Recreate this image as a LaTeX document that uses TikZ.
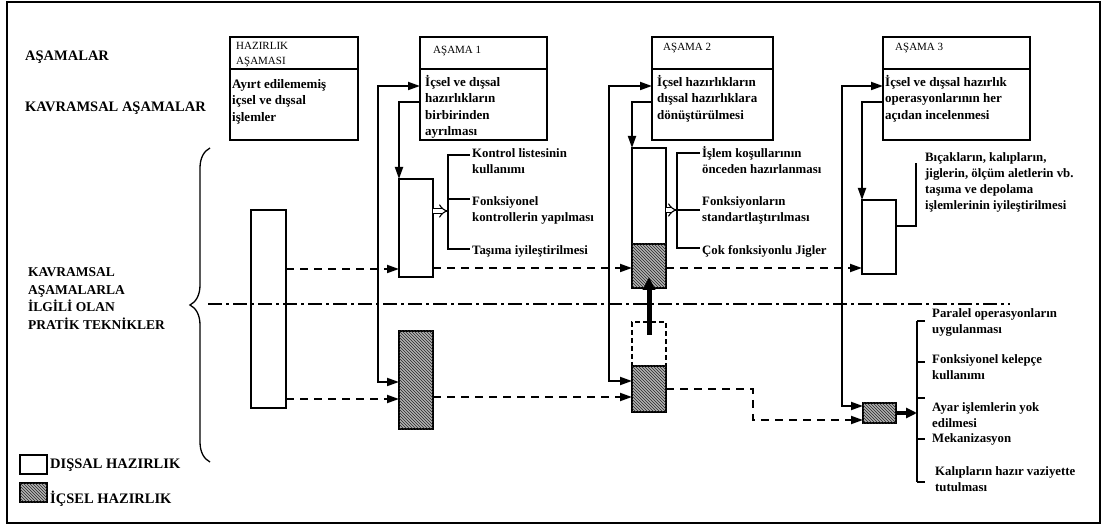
\documentclass[tikz,border=0pt]{standalone}
\usepackage{fontspec}
\setmainfont{Liberation Serif}
\usetikzlibrary{arrows.meta,patterns,decorations.pathreplacing,calc}

\newcommand\bodyfont{\fontsize{13}{16.5}\selectfont\bfseries}
\newcommand\notefont{\fontsize{12.8}{16}\selectfont\bfseries}
\newcommand\headfont{\fontsize{11}{15}\selectfont}
\newcommand\sidefont{\fontsize{14.5}{17.7}\selectfont\bfseries}

\begin{document}
\begin{tikzpicture}[x=1pt,y=-1pt,
  >={Triangle[length=12pt,width=8pt]},
  box/.style={draw, line width=1.6pt, rectangle, inner sep=0pt, outer sep=0pt, anchor=north west},
  hatch/.style={fill=gray!60, postaction={pattern=north west lines, pattern color=black!85}},
  dashbox/.style={draw, line width=1.6pt, dash pattern=on 5pt off 3pt, rectangle, inner sep=0pt, outer sep=0pt, anchor=north west},
  conn/.style={line width=1.8pt},
  dconn/.style={line width=1.8pt, dash pattern=on 8pt off 6pt},
  hollow/.style={line width=1.1pt, double distance=3.5pt, -{Implies[length=5pt]}},
  txt/.style={anchor=north west, inner sep=0pt, align=left, font=\notefont},
  bodytxt/.style={anchor=north west, inner sep=0pt, align=left, font=\bodyfont},
  headtxt/.style={anchor=west, inner sep=0pt, align=left, font=\headfont},
  side/.style={anchor=west, inner sep=0pt, align=left, font=\sidefont},
  brk/.style={line width=1.6pt}]
\useasboundingbox (0,0) rectangle (1103,526);
\fill[white] (0,0) rectangle (1103,526);
\draw[line width=2pt] (7,2) rectangle (1100,523);

% row titles
\node[side] (lblA) at (25,57) {AŞAMALAR};
\node[side] (lblK) at (25,108) {KAVRAMSAL AŞAMALAR};
\node[side, font=\fontsize{13.5}{17.7}\selectfont\bfseries] (lblP) at (28,298.5)
  {KAVRAMSAL\\AŞAMALARLA\\İLGİLİ OLAN\\PRATİK TEKNİKLER};
\draw[line width=1.3pt, decorate, decoration={brace, amplitude=20pt, aspect=0.5}] (210,462) -- (210,148);

% legend
\node[box, minimum width=27pt, minimum height=19pt] (legW) at (20,455) {};
\node[box, hatch, minimum width=27pt, minimum height=19pt] (legH) at (20,483) {};
\node[side, font=\fontsize{14.5}{17}\selectfont\bfseries] (legWt) at (50,465) {DIŞSAL HAZIRLIK};
\node[side, font=\fontsize{14.5}{17}\selectfont\bfseries] (legHt) at (50,499) {İÇSEL HAZIRLIK};

% stage boxes: header + body
\node[box, minimum width=128pt, minimum height=32pt] (hdr0) at (230,37) {};
\node[box, minimum width=128pt, minimum height=71pt] (body0) at (230,69) {};
\node[box, minimum width=127pt, minimum height=32pt] (hdr1) at (420,37) {};
\node[box, minimum width=127pt, minimum height=71pt] (body1) at (420,69) {};
\node[box, minimum width=121pt, minimum height=32pt] (hdr2) at (652,37) {};
\node[box, minimum width=121pt, minimum height=71pt] (body2) at (652,69) {};
\node[box, minimum width=147pt, minimum height=32pt] (hdr3) at (883,37) {};
\node[box, minimum width=147pt, minimum height=71pt] (body3) at (883,69) {};

\node[headtxt] (h0t) at (236,54.5) {HAZIRLIK\\AŞAMASI};
\node[headtxt] (h1t) at (433,51) {AŞAMA 1};
\node[headtxt] (h2t) at (663,48) {AŞAMA 2};
\node[headtxt] (h3t) at (895,48) {AŞAMA 3};

\node[bodytxt] (b0t) at (232,76.5) {\strut Ayırt edilememiş\\içsel ve dışsal\\işlemler};
\node[bodytxt] (b1t) at (425,74.5) {\strut İçsel ve dışsal\\hazırlıkların\\birbirinden\\ayrılması};
\node[bodytxt] (b2t) at (657,74.5) {\strut İçsel hazırlıkların\\dışsal hazırlıklara\\dönüştürülmesi};
\node[bodytxt] (b3t) at (885,74.5) {\strut İçsel ve dışsal hazırlık\\operasyonlarının her\\açıdan incelenmesi};

% columns of preparation
\node[box, minimum width=35pt, minimum height=198pt] (c0) at (251,210) {};
\node[box, minimum width=34pt, minimum height=98pt] (s1w) at (399,179) {};
\node[box, hatch, minimum width=34pt, minimum height=98pt] (s1h) at (399,331) {};
\node[box, minimum width=34pt, minimum height=96pt] (s2w) at (632,148) {};
\node[box, hatch, minimum width=34pt, minimum height=44pt] (s2h) at (632,244) {};
\node[dashbox, minimum width=34pt, minimum height=44pt] (s2d) at (632,322) {};
\node[box, hatch, minimum width=34pt, minimum height=46pt] (s2h2) at (632,366) {};
\node[box, minimum width=34pt, minimum height=74pt] (s3w) at (862,200) {};
\node[box, hatch, minimum width=33pt, minimum height=20pt] (s3h) at (863,403) {};

% stage-to-column feeds
\coordinate (j1) at (378,86);
\coordinate (j2) at (609,86);
\coordinate (j3) at (842,86);
\draw[conn, <->] ($(body1.north west)+(0,17)$) -- (j1) |- ($(s1h.north west)+(0,51)$);
\draw[conn, ->] ($(body1.north west)+(0,33)$) -| (s1w.north west);
\draw[conn, <->] ($(body2.north west)+(0,17)$) -- (j2) |- ($(s2h2.north west)+(0,15)$);
\draw[conn, ->] ($(body2.north west)+(0,33)$) -| (s2w.north west);
\draw[conn, <->] ($(body3.north west)+(0,17)$) -- (j3) |- ($(s3h.north west)+(0,3)$);
\draw[conn, ->] ($(body3.north west)+(0,33)$) -| (s3w.north west);

% dashed transfers
\draw[dconn, ->] ($(c0.north east)+(0,59)$) -- ($(s1w.north west)+(0,90)$);
\draw[dconn, ->] ($(c0.north east)+(0,189)$) -- ($(s1h.north west)+(0,68)$);
\draw[dconn, ->] ($(s1w.north east)+(0,89)$) -- ($(s2h.north west)+(0,24)$);
\draw[dconn, ->] ($(s2h.north east)+(0,24)$) -- ($(s3w.north west)+(0,68)$);
\draw[dconn, ->] ($(s1h.north east)+(0,66)$) -- ($(s2h2.north west)+(0,31)$);
\coordinate (k1) at (753,389);
\draw[dconn, ->] ($(s2h2.north east)+(0,23)$) -- (k1) |- ($(s3h.north west)+(0,17)$);

% conversion of internal to external
\draw[line width=5pt, -{Triangle[length=13pt,width=12pt]}] ($(s2d.north)+(0,13)$) -- ($(s2h.north)+(0,33)$);

% separator
\draw[line width=1.8pt, dash pattern=on 14pt off 4pt on 3pt off 4pt] (208,304) -- (1010,304);

% stage 1 techniques
\draw[brk] (470,155) -- (448,155) -- (448,249) -- (470,249);
\draw[brk] (448,199) -- (470,199);
\coordinate (m1) at (448,211);
\draw[hollow] ($(s1w.north east)+(0,32)$) -- (m1);
\node[txt] (n11) at (472,145.8) {\strut Kontrol listesinin\\kullanımı};
\node[txt] (n12) at (472,193.8) {\strut Fonksiyonel\\kontrollerin yapılması};
\node[txt] (n13) at (472,242.8) {\strut Taşıma iyileştirilmesi};

% stage 2 techniques
\draw[brk] (700,153) -- (677,153) -- (677,248) -- (700,248);
\draw[brk] (677,210) -- (700,210);
\coordinate (m2) at (677,210);
\draw[hollow] ($(s2w.north east)+(0,62)$) -- (m2);
\node[txt] (n21) at (702,145.8) {\strut İşlem koşullarının\\önceden hazırlanması};
\node[txt] (n22) at (702,193.8) {\strut Fonksiyonların\\standartlaştırılması};
\node[txt] (n23) at (702,242.8) {\strut Çok fonksiyonlu Jigler};

% stage 3 techniques
\draw[brk] (s3w.north east |- 0,226) -- (916,226) -- (916,163);
\node[txt] (n31) at (925,149.8) {\strut Bıçakların, kalıpların,\\jiglerin, ölçüm aletlerin vb.\\taşıma ve depolama\\işlemlerinin iyileştirilmesi};

\coordinate (br3) at (917,413);
\draw[brk] (917,321) -- (917,482);
\foreach \yy in {321,362,398,439,482} \draw[brk] (917,\yy) -- (925,\yy);
\draw[line width=4pt, -{Triangle[length=11pt,width=10pt]}] (s3h.east) -- (br3);
\node[txt] (n41) at (932,306.3) {\strut Paralel operasyonların\\uygulanması};
\node[txt] (n42) at (932,351.8) {\strut Fonksiyonel kelepçe\\kullanımı};
\node[txt] (n43) at (932,399.8) {\strut Ayar işlemlerin yok\\edilmesi};
\node[txt] (n44) at (932,430.8) {\strut Mekanizasyon};
\node[txt] (n45) at (935,463.8) {\strut Kalıpların hazır vaziyette\\tutulması};
\end{tikzpicture}
\end{document}
